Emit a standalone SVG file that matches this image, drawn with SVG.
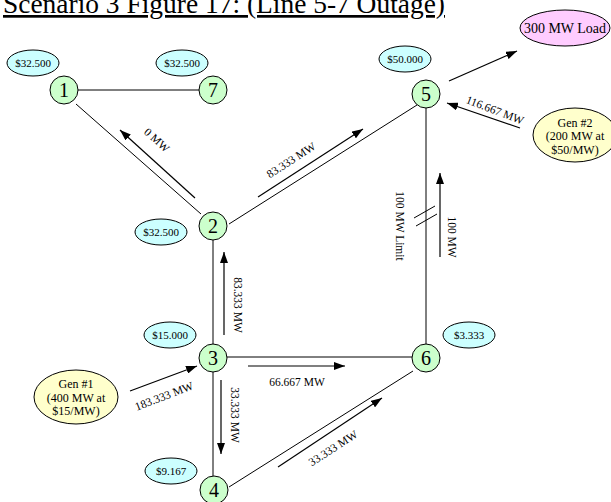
<svg xmlns="http://www.w3.org/2000/svg" width="611" height="502" viewBox="0 0 611 502">
<style>
text{font-family:"Liberation Serif","Times New Roman",serif;fill:#000}
.node circle{fill:#ccffcc;stroke:#000;stroke-width:1}
.node text{font-size:20px;text-anchor:middle;dominant-baseline:central}
.price ellipse{fill:#ccffff;stroke:#000;stroke-width:1}
.price text{font-size:11px;text-anchor:middle;dominant-baseline:central}
.load ellipse{fill:#ffccff;stroke:#000;stroke-width:1}
.gen ellipse{fill:#ffffcc;stroke:#000;stroke-width:1}
.big{font-size:14px;text-anchor:middle;dominant-baseline:central}
.gt{font-size:12px;text-anchor:middle}
.line{stroke:#000;stroke-width:1;fill:none}
.flow{stroke:#000;stroke-width:1.2;fill:none;marker-end:url(#ah)}
.lbl{font-size:11.5px;text-anchor:middle;dominant-baseline:central}
</style>
<defs>
<marker id="ah" markerUnits="userSpaceOnUse" markerWidth="11" markerHeight="8" refX="11" refY="4" orient="auto">
<path d="M0,0 L11,4 L0,8 z" fill="#000"/>
</marker>
</defs>
<rect width="611" height="502" fill="#fff"/>
<text x="3" y="13" font-size="27" text-decoration="underline" textLength="442" lengthAdjust="spacingAndGlyphs">Scenario 3 Figure 17: (Line 5-7 Outage)</text>

<g id="connectors">
<line class="line" x1="78" y1="90" x2="199" y2="90"/>
<line class="line" x1="76" y1="104" x2="201" y2="214"/>
<line class="line" x1="229" y1="224" x2="417" y2="105"/>
<line class="line" x1="213" y1="240" x2="213" y2="344"/>
<line class="line" x1="227" y1="357" x2="412" y2="357"/>
<line class="line" x1="213" y1="372" x2="213" y2="476"/>
<line class="line" x1="229" y1="487" x2="413" y2="371"/>
<line class="line" x1="426" y1="108" x2="426" y2="344"/>
<line class="line" x1="414" y1="218" x2="435" y2="206"/>
<line class="line" x1="416" y1="226" x2="437" y2="214"/>
<line class="flow" x1="449" y1="81" x2="517" y2="51"/>
<line class="flow" x1="520" y1="128" x2="447" y2="103"/>
<line class="flow" x1="130" y1="391" x2="197" y2="366"/>
<line class="flow" x1="195" y1="198" x2="120" y2="130"/>
<line class="flow" x1="258" y1="197" x2="363" y2="129"/>
<line class="flow" x1="224" y1="335" x2="224" y2="252"/>
<line class="flow" x1="248" y1="366" x2="345" y2="366"/>
<line class="flow" x1="221" y1="380" x2="221" y2="454"/>
<line class="flow" x1="278" y1="467" x2="382" y2="398"/>
<line class="flow" x1="440" y1="257" x2="440" y2="173"/>
<text class="lbl" transform="translate(157,140) rotate(42)">0 MW</text>
<text class="lbl" transform="translate(291,160) rotate(-33)">83.333 MW</text>
<text class="lbl" transform="translate(238,305) rotate(90)">83.333 MW</text>
<text class="lbl" transform="translate(297,382)">66.667 MW</text>
<text class="lbl" transform="translate(235,415) rotate(90)">33.333 MW</text>
<text class="lbl" transform="translate(333,448) rotate(-33)">33.333 MW</text>
<text class="lbl" transform="translate(452,237) rotate(90)">100 MW</text>
<text class="lbl" transform="translate(400,226) rotate(90)">100 MW Limit</text>
<text class="lbl" transform="translate(495,110) rotate(21)">116.667 MW</text>
<text class="lbl" transform="translate(164,396) rotate(-21)">183.333 MW</text>
</g>

<g id="load" class="load"><ellipse cx="565" cy="28" rx="45" ry="18"/><text class="big" x="565" y="28">300 MW Load</text></g>
<g id="gen2" class="gen"><ellipse cx="575" cy="135" rx="42" ry="27"/>
<text class="gt" x="575" y="127">Gen #2</text><text class="gt" x="575" y="140">(200 MW at</text><text class="gt" x="575" y="154">$50/MW)</text></g>
<g id="gen1" class="gen"><ellipse cx="76" cy="397" rx="42" ry="27"/>
<text class="gt" x="76" y="388">Gen #1</text><text class="gt" x="76" y="402">(400 MW at</text><text class="gt" x="76" y="415">$15/MW)</text></g>

<g id="price1" class="price"><ellipse cx="33" cy="63" rx="26" ry="13"/><text x="33" y="63">$32.500</text></g>
<g id="price7" class="price"><ellipse cx="182" cy="63" rx="26" ry="13"/><text x="182" y="63">$32.500</text></g>
<g id="price5" class="price"><ellipse cx="405" cy="59" rx="26" ry="13"/><text x="405" y="59">$50.000</text></g>
<g id="price2" class="price"><ellipse cx="161" cy="232" rx="26" ry="13"/><text x="161" y="232">$32.500</text></g>
<g id="price3" class="price"><ellipse cx="170" cy="335" rx="26" ry="13"/><text x="170" y="335">$15.000</text></g>
<g id="price6" class="price"><ellipse cx="469" cy="335" rx="26" ry="13"/><text x="469" y="335">$3.333</text></g>
<g id="price4" class="price"><ellipse cx="171" cy="471" rx="26" ry="13"/><text x="171" y="471">$9.167</text></g>

<g id="n1" class="node"><circle cx="64" cy="90" r="14"/><text x="64" y="90">1</text></g>
<g id="n7" class="node"><circle cx="213" cy="90" r="14"/><text x="213" y="90">7</text></g>
<g id="n5" class="node"><circle cx="426" cy="94" r="14"/><text x="426" y="94">5</text></g>
<g id="n2" class="node"><circle cx="213" cy="226" r="14"/><text x="213" y="226">2</text></g>
<g id="n3" class="node"><circle cx="213" cy="358" r="14"/><text x="213" y="358">3</text></g>
<g id="n6" class="node"><circle cx="426" cy="358" r="14"/><text x="426" y="358">6</text></g>
<g id="n4" class="node"><circle cx="214" cy="490" r="14"/><text x="214" y="490">4</text></g>
</svg>
